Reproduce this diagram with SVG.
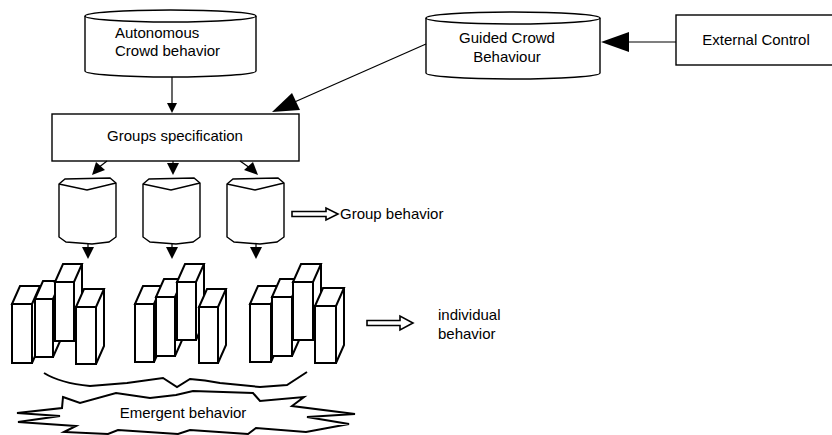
<svg xmlns="http://www.w3.org/2000/svg" width="832" height="435" viewBox="0 0 832 435">
<defs>
<style>
text{font-family:"Liberation Sans",Arial,sans-serif;font-size:15px;fill:#000}
.s{fill:#fff;stroke:#000;stroke-width:1.4}
.o{fill:none;stroke:#000;stroke-width:1.4}
.b{fill:#fff;stroke:#000;stroke-width:2;stroke-linejoin:miter}
.ln{fill:none;stroke:#000;stroke-width:1.2}
.ah{fill:#000;stroke:none}
.ba{fill:#fff;stroke:#000;stroke-width:1.6}
</style>
<g id="cyl">
<path class="s" d="M0,7 L6,2 L51,1 L57,6 L57,60 L50,65 L33,67 L7,65 L0,60 Z"/>
<path class="o" d="M0,7 L28,13 L57,6"/>
</g>
</defs>

<g id="autonomous">
<path class="s" d="M85,16 A85.5,6 0 0 1 256,16 L256,71 A85.5,6 0 0 1 85,71 Z"/>
<path class="o" d="M85,16 A85.5,6 0 0 0 256,16"/>
<text x="115" y="38">Autonomous</text>
<text x="115" y="56">Crowd behavior</text>
</g>

<g id="guided">
<path class="s" d="M426,18 A87,6 0 0 1 600,18 L600,73 A87,6 0 0 1 426,73 Z"/>
<path class="o" d="M426,18 A87,6 0 0 0 600,18"/>
<text x="507" y="43" text-anchor="middle">Guided Crowd</text>
<text x="507" y="62" text-anchor="middle">Behaviour</text>
</g>

<g id="external">
<rect class="s" x="676" y="15" width="160" height="50"/>
<text x="756" y="45" text-anchor="middle">External Control</text>
</g>

<g id="groups">
<rect class="s" x="52" y="114" width="247" height="47"/>
<text x="175" y="141" text-anchor="middle">Groups specification</text>
</g>

<g id="group-cyl-1"><use href="#cyl" x="59" y="177"/></g>
<g id="group-cyl-2"><use href="#cyl" x="143" y="177"/></g>
<g id="group-cyl-3"><use href="#cyl" x="227" y="177"/></g>

<g id="group-behavior">
<path class="ba" d="M292,211.5 L326,211.5 L326,208 L338,214 L326,220 L326,216.5 L292,216.5 Z"/>
<text x="340" y="219">Group behavior</text>
</g>

<g id="individuals-1">
<path class="b" d="M12,304 L20,286 L40,286 L32,304 Z M32,304 L40,286 L40,345 L32,363 Z"/><rect class="b" x="12" y="304" width="20" height="59"/>
<path class="b" d="M35,299 L43,281 L61,281 L53,299 Z M53,299 L61,281 L61,339 L53,357 Z"/><rect class="b" x="35" y="299" width="18" height="58"/>
<path class="b" d="M55,282 L63,264 L82,264 L74,282 Z M74,282 L82,264 L82,323 L74,341 Z"/><rect class="b" x="55" y="282" width="19" height="59"/>
<path class="b" d="M76,307 L84,289 L104,289 L96,307 Z M96,307 L104,289 L104,346 L96,364 Z"/><rect class="b" x="76" y="307" width="20" height="57"/>
</g>
<g id="individuals-2">
<path class="b" d="M135,304 L143,286 L162,286 L154,304 Z M154,304 L162,286 L162,344 L154,362 Z"/><rect class="b" x="135" y="304" width="19" height="58"/>
<path class="b" d="M156,297 L164,279 L183,279 L175,297 Z M175,297 L183,279 L183,338 L175,356 Z"/><rect class="b" x="156" y="297" width="19" height="59"/>
<path class="b" d="M177,282 L185,264 L204,264 L196,282 Z M196,282 L204,264 L204,322 L196,340 Z"/><rect class="b" x="177" y="282" width="19" height="58"/>
<path class="b" d="M199,307 L207,289 L226,289 L218,307 Z M218,307 L226,289 L226,345 L218,363 Z"/><rect class="b" x="199" y="307" width="19" height="56"/>
</g>
<g id="individuals-3">
<path class="b" d="M250,304 L258,286 L279,286 L271,304 Z M271,304 L279,286 L279,344 L271,362 Z"/><rect class="b" x="250" y="304" width="21" height="58"/>
<path class="b" d="M272,297 L280,279 L300,279 L292,297 Z M292,297 L300,279 L300,338 L292,356 Z"/><rect class="b" x="272" y="297" width="20" height="59"/>
<path class="b" d="M293,282 L301,264 L321,264 L313,282 Z M313,282 L321,264 L321,322 L313,340 Z"/><rect class="b" x="293" y="282" width="20" height="58"/>
<path class="b" d="M315,306 L323,288 L344,288 L336,306 Z M336,306 L344,288 L344,345 L336,363 Z"/><rect class="b" x="315" y="306" width="21" height="57"/>
</g>

<g id="individual-behavior">
<path class="ba" d="M367,320.5 L400,320.5 L400,316 L413,323 L400,330 L400,325.5 L367,325.5 Z"/>
<text x="438" y="320">individual</text>
<text x="438" y="339">behavior</text>
</g>

<g id="emergent">
<path fill="none" stroke="#000" stroke-width="2" d="M44,373 Q60,383 90,386 L127,383 L163,378 L177,387 L190,379 Q205,380 220,383 L260,387 L287,385 L307,372"/>
<path class="b" stroke-width="1.6" d="M63,397 L80,403 L116,393 L150,398 L176,395 L193,391 L253,393 L260,401 L304,397 L292,406 L355,414 L307,417 L349,424 L306,432 L256,428 L248,434 L190,430 L178,434 L118,430 L108,434 L64,432 L76,426 L18,422 L60,416 L17,413 L62,408 Z"/>
<text x="183" y="418" text-anchor="middle">Emergent behavior</text>
</g>

<g id="connectors">
<line class="ln" x1="172" y1="77" x2="172" y2="104"/>
<path class="ah" d="M167,103 L177,103 L172,113 Z"/>
<line class="ln" x1="426" y1="44" x2="290" y2="104"/>
<path class="ah" d="M272,112 L292,93 L300,110 Z"/>
<line class="ln" x1="676" y1="42" x2="628" y2="42"/>
<path class="ah" d="M601,42 L629,32 L629,52 Z"/>
<line class="ln" x1="107" y1="161" x2="98" y2="168"/>
<path class="ah" d="M92,175 L96,162 L105,170 Z"/>
<line class="ln" x1="173" y1="161" x2="173" y2="164"/>
<path class="ah" d="M167,163 L179,163 L173,175 Z"/>
<line class="ln" x1="240" y1="161" x2="250" y2="168"/>
<path class="ah" d="M258,175 L244,170 L253,162 Z"/>
<line class="ln" x1="88" y1="243" x2="88" y2="248"/>
<path class="ah" d="M82,247 L94,247 L88,259 Z"/>
<line class="ln" x1="172" y1="243" x2="172" y2="248"/>
<path class="ah" d="M166,247 L178,247 L172,259 Z"/>
<line class="ln" x1="256" y1="243" x2="256" y2="248"/>
<path class="ah" d="M250,247 L262,247 L256,259 Z"/>
</g>
</svg>
